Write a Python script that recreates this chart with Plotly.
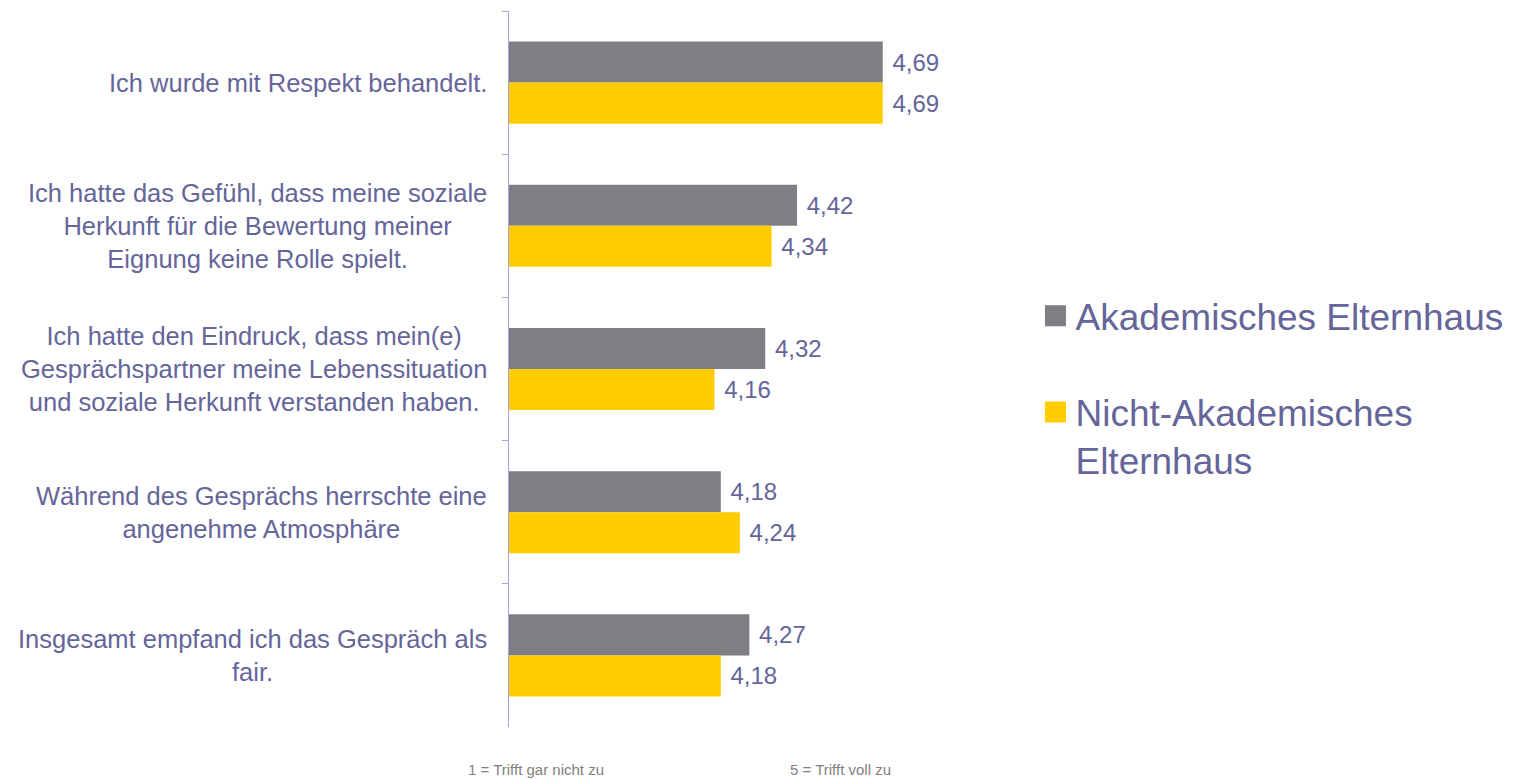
import plotly.graph_objects as go

categories = [
    "Ich wurde mit Respekt behandelt.",
    "Ich hatte das Gefühl, dass meine soziale<br>Herkunft für die Bewertung meiner<br>Eignung keine Rolle spielt.",
    "Ich hatte den Eindruck, dass mein(e)<br>Gesprächspartner meine Lebenssituation<br>und soziale Herkunft verstanden haben.",
    "Während des Gesprächs herrschte eine<br>angenehme Atmosphäre",
    "Insgesamt empfand ich das Gespräch als<br>fair.",
]
akademisch = [4.69, 4.42, 4.32, 4.18, 4.27]
nicht_akademisch = [4.69, 4.34, 4.16, 4.24, 4.18]
series_names = ["Akademisches Elternhaus", "Nicht-Akademisches<br>Elternhaus"]
series_colors = ["#7f7e83", "#ffcc00"]
scale_labels = ["1 = Trifft gar nicht zu", "5 = Trifft voll zu"]

TEXT = "#65659a"
FONT = "Liberation Sans, Arial, sans-serif"

fig = go.Figure()
for vals, name, col, grp in [(akademisch, series_names[0], series_colors[0], "a"),
                             (nicht_akademisch, series_names[1], series_colors[1], "b")]:
    fig.add_trace(go.Bar(
        y=categories, x=vals, orientation="h", name=name,
        marker=dict(color=col, line=dict(width=0)),
        texttemplate=" %{x:.2f}", textposition="outside",
        textfont=dict(size=24, color=TEXT, family=FONT), cliponaxis=False,
        showlegend=False, legendgroup=grp,
    ))
# legend entries (square symbols sized like the reference)
for name, col, grp in [(series_names[0], series_colors[0], "a"),
                       (series_names[1], series_colors[1], "b")]:
    fig.add_trace(go.Scatter(
        x=[None], y=[None], mode="markers", name=name, legendgroup=grp,
        marker=dict(symbol="square", size=16, color=col, line=dict(color=col, width=5)),
    ))

for c in categories:
    fig.add_annotation(
        x=-0.043, xref="paper", y=c, yref="y", text=c, showarrow=False,
        xanchor="right", align="center",
        font=dict(size=25.5, color=TEXT, family=FONT),
    )

fig.add_annotation(x=0.057, xref="paper", y=-0.06, yref="paper", text=scale_labels[0],
                   showarrow=False, xanchor="center", yanchor="middle",
                   font=dict(size=15, color="#7f7f7f", family=FONT))
fig.add_annotation(x=0.697, xref="paper", y=-0.06, yref="paper", text=scale_labels[1],
                   showarrow=False, xanchor="center", yanchor="middle",
                   font=dict(size=15, color="#7f7f7f", family=FONT))

fig.update_layout(
    width=1509, height=771,
    margin=dict(l=501, r=532, t=3, b=52),
    paper_bgcolor="white", plot_bgcolor="white",
    barmode="group", bargap=0.427, bargroupgap=0,
    separators=",.",
    font=dict(family=FONT, color=TEXT),
    showlegend=True,
    legend=dict(
        x=1.106, y=0.617, xanchor="left", yanchor="top",
        font=dict(size=37, color=TEXT, family=FONT),
        traceorder="grouped", tracegroupgap=45, valign="top",
        itemwidth=30,
        bgcolor="rgba(0,0,0,0)",
    ),
    xaxis=dict(range=[3.513, 5.012], visible=False, showgrid=False, zeroline=False, fixedrange=True),
    yaxis=dict(
        autorange="reversed", showticklabels=False, showgrid=False, zeroline=False,
        showline=True, linecolor="#a4a4ea", linewidth=1,
        ticks="outside", ticklen=6, tickcolor="#a4a4ea", tickson="boundaries",
    ),
)

fig.write_html("out.html")
